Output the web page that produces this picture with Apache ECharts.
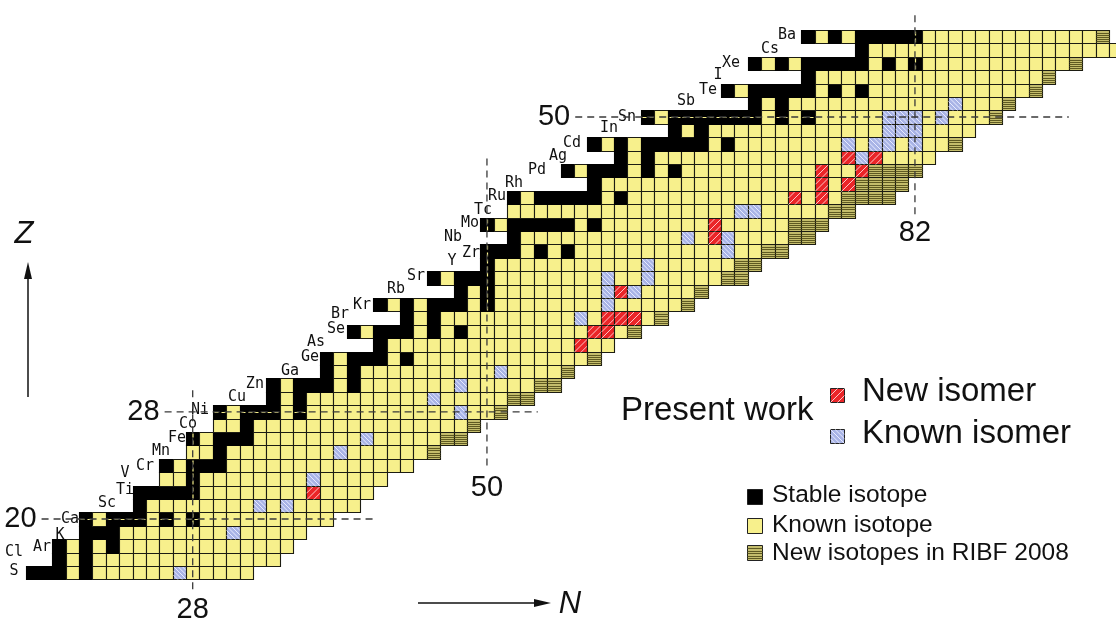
<!DOCTYPE html>
<html>
<head>
<meta charset="utf-8">
<script src="https://cdn.jsdelivr.net/npm/echarts@6/dist/echarts.min.js"></script>
<style>
html,body{margin:0;padding:0;background:#ffffff;}
#chart{width:1116px;height:619px;}
</style>
</head>
<body>
<div id="chart"></div>
<script>
// ---------------- data ----------------
const protonNumbers = [16,17,18,19,20,21,22,23,24,25,26,27,28,29,30,31,32,33,34,35,36,37,38,39,40,41,42,43,44,45,46,47,48,49,50,51,52,53,54,55,56];
const elementSymbols = ['S','Cl','Ar','K','Ca','Sc','Ti','V','Cr','Mn','Fe','Co','Ni','Cu','Zn','Ga','Ge','As','Se','Br','Kr','Rb','Sr','Y','Zr','Nb','Mo','Tc','Ru','Rh','Pd','Ag','Cd','In','Sn','Sb','Te','I','Xe','Cs','Ba'];
// first and last neutron number drawn in each row
const firstN = [16,18,18,20,20,24,24,26,26,28,28,30,30,34,34,38,38,42,40,44,42,48,46,50,50,52,50,52,52,58,56,60,58,64,62,70,68,74,70,78,74];
const lastN  = [32,34,35,36,38,40,41,42,44,46,48,49,51,53,55,56,58,59,61,63,65,66,69,70,72,74,75,77,80,81,82,83,85,86,88,89,91,92,94,97,96];
// stable isotopes (neutron numbers) per row
const stableN = [
  [16,17,18,20],[18,20],[18,20,22],[20,21,22],[20,22,23,24,26,28],
  [24],[24,25,26,27,28],[28],[26,28,29,30],[30],
  [28,30,31,32],[32],[30,32,33,34,36],[34,36],[34,36,37,38,40],
  [38,40],[38,40,41,42,44],[42],[40,42,43,44,46,48],[44,46],
  [42,44,46,47,48,50],[48,50],[46,48,49,50],[50],[50,51,52,54,56],
  [52],[50,52,53,54,55,56,58],[],[52,54,55,56,57,58,60],[58],
  [56,58,59,60,62,64],[60,62],[58,60,62,63,64,65,66,68],[64,66],[62,64,65,66,67,68,69,70,72,74],
  [70,72],[68,70,71,72,73,74,76,78],[74],[70,72,74,75,76,77,78,80,82],[78],
  [74,76,78,79,80,81,82]
];
// [Z, N]
const newIsotopesRIBF2008 = [
  [25,46],[26,47],[26,48],[27,49],[28,51],[29,52],[29,53],[30,54],[30,55],[31,56],[32,58],
  [34,61],[35,63],[36,65],[37,66],[38,68],[38,69],[39,69],[39,70],[40,71],[40,72],
  [41,73],[41,74],[42,73],[42,74],[42,75],[43,76],[43,77],
  [44,77],[44,78],[44,79],[44,80],[45,78],[45,79],[45,80],[45,81],
  [46,79],[46,80],[46,81],[46,82],[48,85],[50,88],[51,89],[52,91],[53,92],[54,94],[56,96]
];
const newIsomers = [
  [22,37],[33,57],[34,58],[34,59],[35,59],[35,60],[35,61],[37,60],[41,67],[42,67],
  [44,73],[44,75],[45,75],[45,77],[46,75],[46,78],[47,77],[47,79]
];
const knownIsomers = [
  [16,27],[19,31],[21,33],[21,35],[23,37],[25,39],[26,41],[28,48],[29,46],[30,48],[31,51],
  [35,57],[36,59],[37,59],[37,61],[38,59],[38,62],[39,62],[40,68],[41,65],[41,68],
  [43,69],[43,70],[47,78],[48,77],[48,79],[48,80],[48,82],[49,80],[49,81],[49,82],
  [50,80],[50,81],[50,82],[50,84],[51,85]
];
// magic numbers and the extent of their dashed guide lines (axis units)
const magicZ = [20, 28, 50];
const magicZSpanN = [[16.7, 41.8],[25.9, 53.8],[56.6, 93.5]];
const magicN = [28, 50, 82];
const magicNSpanZ = [[14.57, 29.6],[23.66, 46.9],[42.7, 57.6]];
// element label anchors [N, Z]
const labelN = [14.64,14.64,16.73,18.08,18.83,21.59,22.94,22.94,24.43,25.63,26.83,27.65,28.55,31.31,32.65,35.27,36.77,37.22,38.71,39.01,40.66,43.2,44.7,47.39,48.81,47.46,48.73,49.7,50.75,52.02,53.74,55.31,56.36,59.13,60.47,64.88,66.53,67.28,68.25,71.17,72.44];
const labelZ = [16.12,17.54,17.91,18.81,20.0,21.19,22.16,23.43,23.96,25.07,26.04,27.09,28.13,29.1,30.07,31.04,32.09,33.21,34.18,35.3,35.97,37.16,38.13,39.25,39.85,41.04,42.09,43.06,44.1,45.07,46.04,47.09,48.06,49.18,50.0,51.19,52.01,53.13,54.03,55.07,56.12];

// ---------------- build cells ----------------
const KNOWN = 0, STABLE = 1, NEWISO = 2, NEWISOMER = 3, KNOWNISOMER = 4;
const special = {};
newIsotopesRIBF2008.forEach(p => special[p[0] + '_' + p[1]] = NEWISO);
knownIsomers.forEach(p => special[p[0] + '_' + p[1]] = KNOWNISOMER);
newIsomers.forEach(p => special[p[0] + '_' + p[1]] = NEWISOMER);
const cells = [];
protonNumbers.forEach((z, i) => {
  for (let n = firstN[i]; n <= lastN[i]; n++) {
    let t = stableN[i].indexOf(n) >= 0 ? STABLE : KNOWN;
    const s = special[z + '_' + n];
    if (s !== undefined) t = s;
    cells.push([n, z, t]);
  }
});

const FILL = ['#f7f08c', '#000000', '#c4bd6c', '#ea2528', '#a9b4e6'];

function seg(x1, y1, x2, y2, stroke, lw, dash) {
  const st = {stroke: stroke, lineWidth: lw};
  if (dash) st.lineDash = dash;
  return {type: 'line', shape: {x1: x1, y1: y1, x2: x2, y2: y2}, style: st, silent: true};
}
function hatch(x, y, w, h, kind) {
  const out = [];
  if (kind === NEWISO) {
    for (let k = 1; k <= 5; k++) {
      const yy = Math.round(y + h * k / 6) + 0.5;
      out.push(seg(x, yy, x + w, yy, '#5f5a22', 1));
    }
  } else if (kind === NEWISOMER) {
    for (let k = 1; k <= 3; k++) {
      const c = (w + h) * k / 4;
      const u1 = Math.max(0, c - h), u2 = Math.min(w, c);
      out.push(seg(x + u1, y + c - u1, x + u2, y + c - u2, 'rgba(255,205,205,0.95)', 1));
    }
  } else if (kind === KNOWNISOMER) {
    for (let k = 1; k <= 5; k++) {
      const c = -h + (w + h) * k / 6;
      const u1 = Math.max(0, c), u2 = Math.min(w, c + h);
      out.push(seg(x + u1, y + u1 - c, x + u2, y + u2 - c, 'rgba(235,238,255,0.95)', 1));
    }
  }
  return out;
}
function inSpan(v, span) { return v >= span[0] && v <= span[1]; }

function renderCell(params, api) {
  const n = api.value(0), z = api.value(1), t = api.value(2);
  const a = api.coord([n - 0.5, z + 0.5]);
  const b = api.coord([n + 0.5, z - 0.5]);
  const x = Math.round(a[0]) + 0.5, y = Math.round(a[1]) + 0.5;
  const w = Math.round(b[0]) - Math.round(a[0]);
  const h = Math.round(b[1]) - Math.round(a[1]);
  const children = [{
    type: 'rect', shape: {x: x, y: y, width: w, height: h},
    style: {fill: FILL[t], stroke: t === STABLE ? '#000' : '#1c1c12', lineWidth: 1.1}
  }];
  hatch(x, y, w, h, t).forEach(c => children.push(c));
  if (t === STABLE) {
    const zi = magicZ.indexOf(z);
    if (zi >= 0 && inSpan(n, magicZSpanN[zi])) children.push(seg(x + 1, y + h / 2, x + w - 1, y + h / 2, '#f7f08c', 1.2, [4, 3]));
    const ni = magicN.indexOf(n);
    if (ni >= 0 && inSpan(z, magicNSpanZ[ni])) children.push(seg(x + w / 2, y + 1, x + w / 2, y + h - 1, '#f7f08c', 1.2, [4, 3]));
  }
  return {type: 'group', children: children};
}

const labelData = elementSymbols.map((s, i) => [labelN[i], labelZ[i], i]);
function renderLabel(params, api) {
  const p = api.coord([api.value(0), api.value(1)]);
  return {type: 'text', x: p[0], y: p[1], silent: true,
    style: {text: elementSymbols[api.value(2)], font: '15px "DejaVu Sans Mono", monospace', fill: '#111',
      align: 'center', verticalAlign: 'middle', textAlign: 'center', textVerticalAlign: 'middle'}};
}

const magicData = [];
magicZ.forEach((z, i) => magicData.push([magicZSpanN[i][0], z, magicZSpanN[i][1], 0, z]));
magicN.forEach((n, i) => magicData.push([n, magicNSpanZ[i][0], magicNSpanZ[i][1], 1, n]));
function renderMagic(params, api) {
  const horiz = api.value(3) === 0;
  let p1, p2, lab;
  const numFont = '29px "Liberation Sans", Arial, sans-serif';
  if (horiz) {
    p1 = api.coord([api.value(0), api.value(1)]);
    p2 = api.coord([api.value(2), api.value(1)]);
    lab = {type: 'text', x: p1[0] - 5, y: p1[1], silent: true,
      style: {text: String(api.value(4)), font: numFont, fill: '#111', align: 'right', verticalAlign: 'middle', textAlign: 'right', textVerticalAlign: 'middle'}};
  } else {
    p1 = api.coord([api.value(0), api.value(2)]);
    p2 = api.coord([api.value(0), api.value(1)]);
    lab = {type: 'text', x: p2[0], y: p2[1] + 4, silent: true,
      style: {text: String(api.value(4)), font: numFont, fill: '#111', align: 'center', verticalAlign: 'top', textAlign: 'center', textVerticalAlign: 'top'}};
  }
  return {type: 'group', children: [
    seg(p1[0], p1[1], p2[0], p2[1], '#3a3a3a', 1.3, [7, 5]), lab
  ]};
}

// axis ranges: one cell = 13.375 px horizontally, 13.4 px vertically
const X_MIN = 28 - 192.7 / 13.375, X_MAX = 28 + (1116 - 192.7) / 13.375;
const Y_MAX = 20 + 519 / 13.4, Y_MIN = 20 - (619 - 519) / 13.4;

const legendFont = '33px "Liberation Sans", Arial, sans-serif';
const smallFont = '24.5px "Liberation Sans", Arial, sans-serif';
function txt(x, y, s, font, align) {
  return {type: 'text', x: x, y: y, z: 10, style: {text: s, font: font, fill: '#111',
    align: align || 'left', verticalAlign: 'middle', textAlign: align || 'left', textVerticalAlign: 'middle'}};
}
function box(x, y, s, kind) {
  const ch = [{type: 'rect', shape: {x: x + 0.5, y: y + 0.5, width: s, height: s},
    style: {fill: FILL[kind], stroke: '#222', lineWidth: 1}}];
  hatch(x + 0.5, y + 0.5, s, s, kind).forEach(c => ch.push(c));
  return {type: 'group', z: 10, children: ch};
}

const option = {
  animation: false,
  backgroundColor: '#ffffff',
  grid: {left: 0, right: 0, top: 0, bottom: 0},
  xAxis: {type: 'value', min: X_MIN, max: X_MAX, show: false},
  yAxis: {type: 'value', min: Y_MIN, max: Y_MAX, show: false},
  series: [
    {type: 'custom', name: 'nuclides', data: cells, renderItem: renderCell, encode: {x: 0, y: 1}, clip: false, z: 1},
    {type: 'custom', name: 'elements', data: labelData, renderItem: renderLabel, encode: {x: 0, y: 1}, clip: false, z: 2},
    {type: 'custom', name: 'magic', data: magicData, renderItem: renderMagic, encode: {x: 0, y: 1}, clip: false, z: 3}
  ],
  graphic: [
    // Z axis arrow
    {type: 'line', shape: {x1: 28, y1: 397, x2: 28, y2: 272}, style: {stroke: '#111', lineWidth: 1.5}, z: 10},
    {type: 'polygon', shape: {points: [[28, 262], [24, 279], [32, 279]]}, style: {fill: '#111'}, z: 10},
    txt(24, 234, 'Z', 'italic 31px "Liberation Sans", Arial, sans-serif', 'center'),
    // N axis arrow
    {type: 'line', shape: {x1: 418, y1: 603, x2: 540, y2: 603}, style: {stroke: '#111', lineWidth: 1.5}, z: 10},
    {type: 'polygon', shape: {points: [[551, 603], [534, 599], [534, 607]]}, style: {fill: '#111'}, z: 10},
    txt(570, 604, 'N', 'italic 31px "Liberation Sans", Arial, sans-serif', 'center'),
    // legend
    txt(621, 411, 'Present work', legendFont),
    box(830, 388, 14, NEWISOMER),
    txt(862, 392, 'New isomer', legendFont),
    box(830, 429, 14, KNOWNISOMER),
    txt(862, 434, 'Known isomer', legendFont),
    box(747, 489, 15, STABLE),
    txt(772, 495, 'Stable isotope', smallFont),
    box(747, 518, 15, KNOWN),
    txt(772, 525, 'Known isotope', smallFont),
    box(747, 545, 15, NEWISO),
    txt(772, 553, 'New isotopes in RIBF 2008', smallFont)
  ]
};
const chart = echarts.init(document.getElementById('chart'));
chart.setOption(option);
</script>
</body>
</html>
